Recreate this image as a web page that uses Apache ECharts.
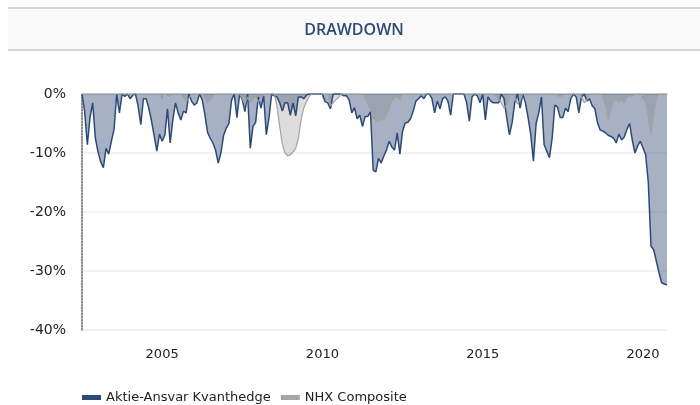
<!DOCTYPE html>
<html>
<head>
<meta charset="utf-8">
<title>Drawdown</title>
<script src="https://cdn.jsdelivr.net/npm/echarts@6/dist/echarts.min.js"></script>
<style>
html,body{margin:0;padding:0;background:#fff;}
#chart{width:700px;height:405px;}
</style>
</head>
<body>
<div id="chart"></div>
<script>
// 月度数据，从 2002-07 开始
var startYear = 2002, startMonth = 7;
var fundName = 'Aktie-Ansvar Kvanthedge';
var indexName = 'NHX Composite';
var yearLabels = [2005, 2010, 2015, 2020];

// 基金回撤 (%)
var fundValues = [
  0, -3, -8.6, -4, -1.5, -7.5, -9.8, -11.5, -12.5, -9.2, -10.2, -8,
  -6, 0, -3.2, 0, -0.4, 0, -0.8, -0.2, 0, -2, -5.2, -0.8,
  -0.8, -2.4, -4.5, -7, -9.7, -6.8, -8, -7, -2.5, -8.3, -4.4, -1.5,
  -3.2, -4.4, -2.9, -3.2, 0, -1.2, -1.9, -1.5, 0, -1, -3.5, -6.5,
  -7.5, -8.3, -9.5, -11.7, -10, -7, -5.8, -5, -1, 0, -4, 0,
  -1, -3, 0, -9.2, -5.5, -4.8, -0.5, -2.4, -0.3, -6.9, -4, 0,
  -0.3, -0.5, -1.5, -2.9, -1.5, -1.5, -3.6, -1.5, -3.7, -0.5, -0.5, -0.8,
  -0.2, 0, 0, 0, 0, 0, 0, -1.3, -1.5, -2.5, 0, 0,
  0, 0, -0.3, -0.3, -1, -3.2, -2.3, -4.2, -3.6, -5.5, -3.8, -3.8,
  -3, -12.9, -13.2, -10.9, -11.7, -10.5, -9.5, -8, -9, -9.5, -6.6, -10.2,
  -6.3, -4.9, -4.8, -4.2, -2.9, -1.2, -0.8, -0.3, -0.8, 0, 0, -0.8,
  -3.2, -1.2, -2.5, -0.8, -0.5, -1.2, -3.6, 0, 0, 0, 0, 0,
  -1.5, -4.6, -0.5, 0, -0.3, -1.5, 0, -4.4, -0.5, -1.2, -1.5, -1.5,
  -1.5, 0, -0.8, -4, -6.9, -4.9, -1.5, 0, -2.4, 0, -1.5, -4,
  -6.9, -11.4, -5, -3.2, -0.5, -8.6, -9.7, -10.8, -7.5, -1.9, -2.2, -4,
  -4, -2.4, -3, -0.8, 0, -0.5, -3.2, -0.5, 0, -1.2, -0.8, -2,
  -2.5, -4.9, -6.1, -6.3, -6.6, -7, -7.2, -7.5, -8.3, -6.8, -7.8, -7.3,
  -6, -5, -7.8, -10, -8.8, -8, -9.1, -10.3, -15, -25.8, -26.4, -28.3,
  -30.3, -32, -32.2, -32.4
];

// 指数回撤 (%)
var indexValues = [
  0, 0, 0, 0, 0, 0, 0, 0, 0, 0, 0, 0,
  0, 0, 0, 0, 0, 0, 0, 0, 0, 0, 0, 0,
  0, 0, 0, 0, 0, 0, 0, 0, -0.3, -0.5, 0, 0,
  0, 0, -0.6, -1.3, -0.8, 0, 0, 0, 0, 0, -0.6, -1.4,
  -1.2, -0.3, 0, 0, 0, 0, 0, 0, 0, 0, 0, 0,
  -0.8, -1.7, -0.5, -1.4, -1, -0.3, -1.4, -0.6, 0, 0, 0, 0,
  0, -2.1, -5.5, -8.5, -10, -10.5, -10.3, -9.8, -9.2, -7.5, -4.4, -2.4,
  -1.3, -0.4, 0, 0, 0, 0, 0, 0, 0, -2, -1.5, -1,
  -0.6, 0, 0, 0, 0, 0, 0, 0, 0, 0, -0.8, -1.8,
  -2.6, -4, -4.6, -4.5, -4.3, -4.4, -3.4, -2.6, -1.2, -0.6, -0.5, -1,
  0, 0, 0, 0, 0, 0, 0, 0, 0, 0, 0, 0,
  0, 0, 0, 0, 0, 0, 0, 0, 0, 0, 0, 0,
  0, 0, 0, 0, 0, 0, 0, 0, 0, 0, 0, -0.4,
  -0.8, -1.5, -2.4, -1.8, -0.6, 0, -0.5, -1.7, -1, 0, 0, 0,
  0, 0, 0, 0, 0, 0, 0, 0, 0, 0, -0.3, -0.5,
  -0.3, 0, 0, 0, 0, 0, 0, -0.5, -1.5, -1, 0, 0,
  0, 0, 0, -0.5, -2, -4.4, -2.5, -1.4, -0.8, -1.4, -1, -1.5,
  -0.5, -0.3, -0.4, 0, 0, 0, 0, -1.5, -4, -6.9, -3.5, -0.8,
  0, 0, 0, 0
];

// 类目：月份
var months = [];
for (var i = 0; i < fundValues.length; i++) {
  var m = startMonth - 1 + i;
  var y = startYear + Math.floor(m / 12);
  var mm = m % 12 + 1;
  months.push(y + '-' + (mm < 10 ? '0' + mm : mm));
}

// 只在 2005/2010/2015/2020 一月显示刻度和标签
function isYearTick(idx, value) {
  return value.slice(5) === '01' && yearLabels.indexOf(+value.slice(0, 4)) >= 0;
}

var chart = echarts.init(document.getElementById('chart'));
chart.setOption({
  animation: false,
  title: {
    text: 'DRAWDOWN',
    left: 354,
    top: 22,
    padding: 0,
    textAlign: 'center',
    textStyle: { color: '#2d4a75', fontFamily: 'Open Sans', fontSize: 16, fontWeight: 600 }
  },
  graphic: [
    { type: 'rect', shape: { x: 8, y: 8, width: 692, height: 42 }, style: { fill: '#f9f9f9' }, silent: true },
    { type: 'line', shape: { x1: 8, y1: 8, x2: 700, y2: 8 }, style: { stroke: '#d6d6d6', lineWidth: 2 }, silent: true },
    { type: 'line', shape: { x1: 8, y1: 50, x2: 700, y2: 50 }, style: { stroke: '#d6d6d6', lineWidth: 2 }, silent: true }
  ],
  grid: { left: 82, right: 33, top: 94, bottom: 75 },
  legend: {
    left: 82,
    top: 391,
    padding: 0,
    icon: 'rect',
    itemWidth: 19,
    itemHeight: 5,
    itemGap: 10,
    itemStyle: { borderWidth: 0 },
    textStyle: { fontFamily: 'DejaVu Sans', fontSize: 13, color: '#222' },
    data: [fundName, indexName]
  },
  xAxis: {
    type: 'category',
    data: months,
    boundaryGap: false,
    axisLine: { lineStyle: { color: '#c8c8c8', width: 1.5 } },
    axisTick: { interval: isYearTick, length: 5, lineStyle: { color: '#c8c8c8', width: 1.5 } },
    axisLabel: {
      interval: isYearTick,
      formatter: function (v) { return v.slice(0, 4); },
      margin: 18,
      fontFamily: 'DejaVu Sans',
      fontSize: 13,
      color: '#222'
    },
    splitLine: { show: false }
  },
  yAxis: {
    type: 'value',
    min: -40,
    max: 0,
    interval: 10,
    axisLine: { show: true, lineStyle: { color: '#666', width: 1.5, type: 'dotted' } },
    axisTick: { show: false },
    axisLabel: { formatter: '{value}%', margin: 16, fontFamily: 'DejaVu Sans', fontSize: 14, color: '#222' },
    splitLine: { lineStyle: { color: ['#eeeeee', '#eeeeee', '#eeeeee', '#eeeeee', '#c6c6c6'], width: 1.5 } }
  },
  series: [
    {
      name: fundName,
      type: 'line',
      data: fundValues,
      symbol: 'none',
      color: '#2b4a78',
      lineStyle: { width: 1.5, color: '#2b4a78' },
      areaStyle: { color: 'rgba(34,60,105,0.4)', opacity: 1 }
    },
    {
      name: indexName,
      type: 'line',
      data: indexValues,
      symbol: 'none',
      color: '#a6a6a6',
      lineStyle: { width: 1.2, color: '#a3a3a3' },
      areaStyle: { color: 'rgba(120,120,120,0.25)', opacity: 1 }
    }
  ]
});
</script>
</body>
</html>
